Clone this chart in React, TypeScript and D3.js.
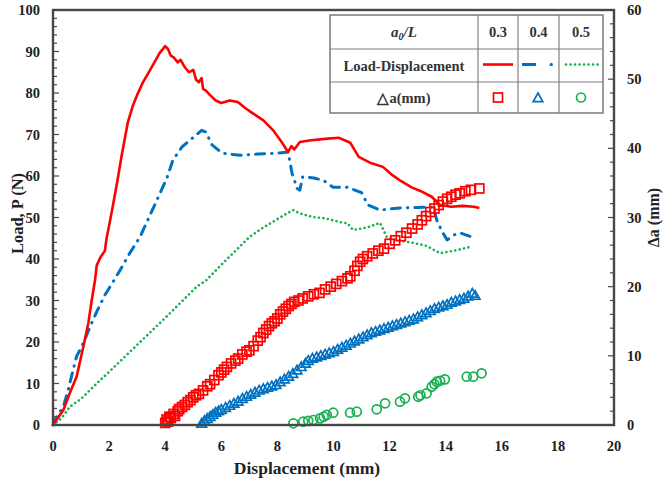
import React from 'react';
import * as d3 from 'd3';

const WIDTH = 665;
const HEIGHT = 480;
const PLOT = { left: 53, top: 10, right: 614, bottom: 425 };
const FONT = "'Liberation Serif', 'Times New Roman', serif";
const RED = "#ff0000";
const BLUE = "#0070c0";
const GREEN = "#19b050";
const FRAME = "#474747";

// load-displacement curves [displacement mm, load N]
const LOAD_03: [number, number][] = [
  [0, 0], [0.1, 1], [0.37, 3.6], [0.6, 7.7], [0.84, 11.6], [1.08, 18.8], [1.26, 24.6],
  [1.38, 30], [1.5, 35], [1.56, 38.5], [1.7, 40.5], [1.85, 42], [1.91, 45], [2.0, 48],
  [2.14, 53], [2.3, 59], [2.45, 65], [2.67, 73], [2.85, 77], [3.0, 79.5], [3.2, 82.5],
  [3.46, 85.5], [3.8, 89.6], [4.0, 91.3], [4.1, 90.6], [4.2, 89], [4.3, 88.6], [4.45, 87.4],
  [4.55, 88], [4.7, 86.2], [4.85, 85], [5.0, 85.6], [5.1, 83.2], [5.2, 82.6], [5.3, 83.6],
  [5.35, 81], [5.45, 80.6], [5.6, 79.5], [5.8, 78.2], [6.0, 77.6], [6.3, 78.2], [6.6, 77.8],
  [6.85, 76.4], [7.1, 75.2], [7.5, 73.4], [7.85, 71], [8.15, 68.2], [8.38, 65.8], [8.5, 67.2],
  [8.6, 66.4], [8.8, 68.2], [9.2, 68.6], [9.8, 69], [10.2, 69.2], [10.6, 68], [10.9, 64.6],
  [11.3, 63.2], [11.76, 62.2], [12.1, 60.2], [12.4, 58.8], [12.8, 57.2], [13.1, 56.4],
  [13.5, 55], [13.8, 53], [14.2, 52.6], [14.6, 52.8], [15.0, 52.6], [15.2, 52.3],
];

const LOAD_04: [number, number][] = [
  [0, 0], [0.13, 2], [0.37, 4.4], [0.54, 8.4], [0.67, 12], [0.84, 16.5], [1.08, 19.7],
  [1.32, 23.7], [1.56, 27.3], [1.85, 31.3], [2.14, 34.5], [2.39, 37.3], [2.7, 41],
  [3.1, 45.3], [3.57, 52.2], [4.06, 59.5], [4.28, 63.9], [4.6, 67], [5.0, 69.3],
  [5.3, 71], [5.45, 70.6], [5.67, 67.5], [6.03, 65.5], [6.4, 65.2], [6.67, 65],
  [7.3, 65.3], [7.98, 65.5], [8.38, 65.8], [8.52, 60.7], [8.7, 57], [8.8, 56.6],
  [8.9, 59.8], [9.3, 59.5], [9.63, 59], [9.98, 57.3], [10.48, 57.3], [11.0, 56],
  [11.23, 53], [11.66, 51.8], [12.37, 52.3], [13.0, 52.4], [13.55, 52.5], [13.7, 49],
  [13.9, 46.3], [14.05, 44.6], [14.3, 45.8], [14.5, 46.3], [14.94, 45.3],
];

const LOAD_05: [number, number][] = [
  [0, 0], [0.3, 1.6], [0.6, 4.4], [1.0, 6.3], [1.68, 10.8], [2.0, 12.8], [3.0, 19.3],
  [4.0, 25.8], [5.12, 33.3], [5.47, 34.9], [6.0, 38.6], [7.02, 45.4], [7.5, 47.6],
  [8.0, 49.6], [8.4, 51.2], [8.56, 51.8], [8.8, 51], [9.27, 50.1], [9.7, 49.8],
  [10.23, 48.9], [10.5, 48.6], [10.7, 47], [11.2, 47.6], [11.66, 48.7], [11.9, 45.3],
  [12.3, 44.5], [12.83, 43.9], [13.3, 43.2], [13.8, 41.4], [14.3, 42], [14.87, 42.9],
];

// crack extension [displacement mm, delta a mm]
const CRACK_03: [number, number][] = [
  [4.0, 0.3], [4.05, 0.8], [4.1, 0.5], [4.15, 1.2], [4.2, 1.0], [4.3, 1.6], [4.35, 1.3],
  [4.45, 2.0], [4.5, 2.3], [4.6, 2.6], [4.7, 2.9], [4.8, 3.3], [4.9, 3.6], [5.0, 4.0],
  [5.1, 4.3], [5.2, 4.5], [5.35, 5.0], [5.5, 5.6], [5.6, 5.9], [5.75, 6.5], [5.9, 7.2],
  [6.0, 7.6], [6.1, 8.0], [6.2, 8.4], [6.35, 8.9], [6.5, 9.3], [6.6, 9.6], [6.75, 10.2],
  [6.9, 10.6], [7.0, 10.8], [7.15, 11.4], [7.3, 12.2], [7.4, 12.7], [7.5, 13.3], [7.6, 13.8],
  [7.7, 14.3], [7.8, 14.7], [7.9, 15.0], [8.0, 15.4], [8.1, 16.0], [8.2, 16.4], [8.3, 16.8],
  [8.4, 17.2], [8.5, 17.5], [8.6, 17.8], [8.75, 18.0], [8.9, 18.3], [9.1, 18.6], [9.3, 18.9],
  [9.5, 19.1], [9.7, 19.6], [9.9, 20.0], [10.1, 20.4], [10.3, 20.8], [10.5, 21.2], [10.6, 21.5],
  [10.75, 22.3], [10.85, 23.0], [10.95, 23.6], [11.05, 24.0], [11.2, 24.4], [11.4, 24.8],
  [11.6, 25.2], [11.8, 25.5], [12.0, 26.2], [12.2, 26.7], [12.4, 27.3], [12.6, 27.8],
  [12.8, 28.4], [13.0, 29.0], [13.15, 29.6], [13.3, 30.2], [13.45, 30.8], [13.6, 31.3],
  [13.75, 31.8], [13.9, 32.3], [14.05, 32.7], [14.2, 33.0], [14.35, 33.3], [14.5, 33.5],
  [14.7, 33.8], [14.9, 34.0], [15.2, 34.2],
];

const CRACK_04: [number, number][] = [
  [5.3, 0.2], [5.4, 0.6], [5.5, 0.9], [5.6, 1.2], [5.7, 1.5], [5.8, 1.8], [5.9, 2.0],
  [6.0, 2.2], [6.15, 2.5], [6.3, 2.8], [6.45, 3.1], [6.6, 3.4], [6.75, 3.8], [6.9, 4.1],
  [7.05, 4.4], [7.2, 4.7], [7.35, 5.0], [7.5, 5.2], [7.65, 5.4], [7.8, 5.6], [7.95, 5.8],
  [8.1, 6.2], [8.25, 6.6], [8.4, 7.0], [8.55, 7.4], [8.7, 7.9], [8.85, 8.4], [9.0, 8.9],
  [9.1, 9.3], [9.25, 9.6], [9.4, 9.8], [9.55, 10.0], [9.7, 10.2], [9.85, 10.4], [10.0, 10.6],
  [10.15, 10.9], [10.3, 11.2], [10.45, 11.5], [10.6, 11.8], [10.75, 12.1], [10.9, 12.4],
  [11.05, 12.7], [11.2, 13.0], [11.35, 13.3], [11.5, 13.5], [11.65, 13.7], [11.8, 13.9],
  [11.95, 14.1], [12.1, 14.3], [12.25, 14.5], [12.4, 14.7], [12.55, 14.9], [12.7, 15.1],
  [12.85, 15.3], [13.0, 15.6], [13.15, 15.9], [13.3, 16.2], [13.45, 16.5], [13.6, 16.8],
  [13.75, 17.0], [13.9, 17.2], [14.05, 17.4], [14.2, 17.7], [14.35, 17.9], [14.5, 18.1],
  [14.65, 18.3], [14.8, 18.6], [14.95, 19.0], [15.05, 18.7],
];

const CRACK_05: [number, number][] = [
  [8.57, 0.24], [8.92, 0.48], [9.1, 0.6], [9.28, 0.72], [9.52, 0.96], [9.65, 1.2],
  [9.76, 1.45], [9.99, 1.78], [10.59, 1.78], [10.83, 1.92], [11.54, 2.27], [11.84, 3.14],
  [12.37, 3.37], [12.55, 3.86], [13.02, 4.09], [13.1, 4.3], [13.32, 4.58], [13.5, 5.54],
  [13.6, 5.9], [13.68, 6.26], [13.8, 6.4], [13.97, 6.6], [14.75, 6.98], [14.98, 6.98],
  [15.28, 7.47],
];

const X_TICKS = d3.range(0, 21, 2);
const Y_TICKS = d3.range(0, 101, 10);
const Y2_TICKS = d3.range(0, 61, 10);

const x = d3.scaleLinear().domain([0, 20]).range([PLOT.left, PLOT.right]);
const y = d3.scaleLinear().domain([0, 100]).range([PLOT.bottom, PLOT.top]);
const y2 = d3.scaleLinear().domain([0, 60]).range([PLOT.bottom, PLOT.top]);

const line = (yScale: d3.ScaleLinear<number, number>) =>
  d3.line<[number, number]>().x(d => x(d[0])).y(d => yScale(d[1]));

const square = (cx: number, cy: number, key: any) => (
  <rect key={key} x={cx - 4.5} y={cy - 4.5} width={9} height={9} fill="none" stroke={RED} strokeWidth={1.7} />
);
const triangle = (cx: number, cy: number, key: any) => (
  <path key={key} d={`M${cx},${cy - 5}L${cx + 4.8},${cy + 3.6}L${cx - 4.8},${cy + 3.6}Z`} fill="none" stroke={BLUE} strokeWidth={1.7} />
);
const circle = (cx: number, cy: number, key: any) => (
  <circle key={key} cx={cx} cy={cy} r={4.5} fill="none" stroke={GREEN} strokeWidth={1.7} />
);

export default function App() {
  const minorY = d3.range(0, 101, 2);
  const minorY2 = d3.range(0, 61, 2);
  // legend table geometry
  const cols = [330, 478, 518, 559, 603];
  const rows = [15, 49, 82, 113];
  const rowMid = (i: number) => (rows[i] + rows[i + 1]) / 2;
  const colMid = (i: number) => (cols[i] + cols[i + 1]) / 2;

  return (
    <svg width={WIDTH} height={HEIGHT} style={{ position: 'absolute', left: 0, top: 0, background: '#fff' }}
      fontFamily={FONT} fontWeight="bold">
      {/* minor ticks, inside */}
      {minorY.map(v => (
        <line key={'ly' + v} x1={PLOT.left} x2={PLOT.left + (v % 10 === 0 ? 6 : 4)} y1={y(v)} y2={y(v)} stroke={FRAME} strokeWidth={1.2} />
      ))}
      {minorY2.map(v => (
        <line key={'ry' + v} x1={PLOT.right} x2={PLOT.right - (v % 10 === 0 ? 6 : 4)} y1={y2(v)} y2={y2(v)} stroke={FRAME} strokeWidth={1.2} />
      ))}

      {/* load curves */}
      <path d={line(y)(LOAD_05) ?? ''} fill="none" stroke={GREEN} strokeWidth={2.6} strokeDasharray="0.1,4.4" strokeLinecap="round" />
      <path d={line(y)(LOAD_04) ?? ''} fill="none" stroke={BLUE} strokeWidth={3} strokeDasharray="9,7,0.5,7" strokeLinecap="round" strokeLinejoin="round" />
      <path d={line(y)(LOAD_03) ?? ''} fill="none" stroke={RED} strokeWidth={2.6} strokeLinejoin="round" />

      {/* crack extension markers */}
      {CRACK_03.map((d, i) => square(x(d[0]), y2(d[1]), 's' + i))}
      {CRACK_04.map((d, i) => triangle(x(d[0]), y2(d[1]), 't' + i))}
      {CRACK_05.map((d, i) => circle(x(d[0]), y2(d[1]), 'c' + i))}

      {/* frame */}
      <rect x={PLOT.left} y={PLOT.top} width={PLOT.right - PLOT.left} height={PLOT.bottom - PLOT.top}
        fill="none" stroke={FRAME} strokeWidth={2.4} />

      {/* tick labels */}
      {X_TICKS.map(v => (
        <text key={'xt' + v} x={x(v)} y={451} textAnchor="middle" fontSize={14.5} fill="#222">{v}</text>
      ))}
      {Y_TICKS.map(v => (
        <text key={'yt' + v} x={40} y={y(v) + 5} textAnchor="end" fontSize={14.5} fill="#222">{v}</text>
      ))}
      {Y2_TICKS.map(v => (
        <text key={'y2t' + v} x={627} y={y2(v) + 5} textAnchor="start" fontSize={14.5} fill="#222">{v}</text>
      ))}

      {/* axis titles */}
      <text x={307} y={474} textAnchor="middle" fontSize={17.5} fill="#222">Displacement (mm)</text>
      <text transform={`translate(17,${(PLOT.top + PLOT.bottom) / 2 - 4}) rotate(-90)`} textAnchor="middle" fontSize={16.5} fill="#222" dy="0.35em">Load, P (N)</text>
      <text transform={`translate(653,${(PLOT.top + PLOT.bottom) / 2}) rotate(-90)`} textAnchor="middle" fontSize={16} fill="#222" dy="0.35em">Δa (mm)</text>

      {/* legend table */}
      <g>
        <rect x={cols[0]} y={rows[0]} width={cols[4] - cols[0]} height={rows[3] - rows[0]} fill="#fff" stroke="#707070" strokeWidth={1.4} />
        {cols.slice(1, 4).map(c => <line key={'c' + c} x1={c} x2={c} y1={rows[0]} y2={rows[3]} stroke="#808080" strokeWidth={1.2} />)}
        {rows.slice(1, 3).map(r => <line key={'r' + r} x1={cols[0]} x2={cols[4]} y1={r} y2={r} stroke="#808080" strokeWidth={1.2} />)}
        <text x={colMid(0)} y={rowMid(0) + 5} textAnchor="middle" fontSize={15} fontStyle="italic" fill="#333">
          a<tspan fontSize={10} dy={3}>0</tspan><tspan dy={-3}>/L</tspan>
        </text>
        {['0.3', '0.4', '0.5'].map((t, i) => (
          <text key={t} x={colMid(i + 1)} y={rowMid(0) + 5} textAnchor="middle" fontSize={14.5} fill="#333">{t}</text>
        ))}
        <text x={colMid(0)} y={rowMid(1) + 5} textAnchor="middle" fontSize={14.5} fill="#333">Load-Displacement</text>
        <line x1={483} x2={513} y1={rowMid(1) - 1} y2={rowMid(1) - 1} stroke={RED} strokeWidth={2.6} />
        <line x1={522} x2={536} y1={rowMid(1) - 1} y2={rowMid(1) - 1} stroke={BLUE} strokeWidth={3} />
        <line x1={551} x2={551.5} y1={rowMid(1) - 1} y2={rowMid(1) - 1} stroke={BLUE} strokeWidth={3} strokeLinecap="round" />
        <line x1={566} x2={600} y1={rowMid(1) - 1} y2={rowMid(1) - 1} stroke={GREEN} strokeWidth={2.6} strokeDasharray="0.1,4.4" strokeLinecap="round" />
        <text x={colMid(0)} y={rowMid(2) + 5} textAnchor="middle" fontSize={14.5} fill="#333">△a(mm)</text>
        {square(498, rowMid(2), 'ls')}
        {triangle(538, rowMid(2) + 0.5, 'lt')}
        {circle(581, rowMid(2), 'lc')}
      </g>
    </svg>
  );
}
